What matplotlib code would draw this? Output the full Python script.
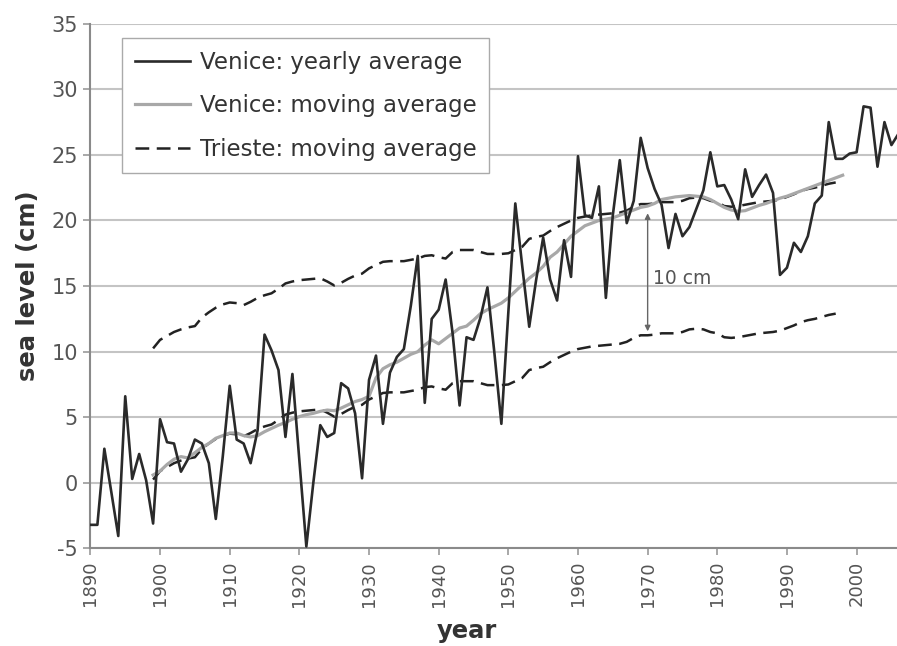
"""Venice and Trieste sea level, yearly values and moving averages."""

import numpy as np
import matplotlib
matplotlib.use("Agg")
import matplotlib.pyplot as plt

plt.rcParams['font.family'] = ['DejaVu Sans']
plt.rcParams['axes.unicode_minus'] = False

# Venice yearly average sea level (cm), 1890-2006
venice_years = np.arange(1890, 2007)
venice_yearly = [
    -3.2, -3.2, 2.6, -0.7, -4.05, 6.6, 0.3, 2.2, 0.2, -3.1,      # 1890s
    4.85, 3.1, 3.0, 0.85, 1.8, 3.3, 3.0, 1.5, -2.75, 2.0,        # 1900s
    7.4, 3.3, 3.0, 1.5, 4.0, 11.3, 10.1, 8.6, 3.5, 8.3,          # 1910s
    1.7, -4.85, 0.0, 4.4, 3.5, 3.8, 7.6, 7.2, 5.3, 0.35,         # 1920s
    7.85, 9.7, 4.5, 8.4, 9.6, 10.2, 13.5, 17.3, 6.1, 12.5,       # 1930s
    13.2, 15.5, 11.4, 5.9, 11.1, 10.9, 12.6, 14.9, 9.9, 4.5,     # 1940s
    13.0, 21.3, 16.5, 11.9, 15.5, 18.7, 15.5, 13.9, 18.5, 15.7,  # 1950s
    24.9, 20.4, 20.2, 22.6, 14.1, 20.4, 24.6, 19.8, 21.5, 26.3,  # 1960s
    24.0, 22.4, 21.2, 17.9, 20.5, 18.8, 19.5, 20.9, 22.3, 25.2,  # 1970s
    22.6, 22.7, 21.6, 20.1, 23.9, 21.8, 22.7, 23.5, 22.1, 15.85, # 1980s
    16.4, 18.3, 17.6, 18.8, 21.3, 21.9, 27.5, 24.7, 24.7, 25.1,  # 1990s
    25.2, 28.7, 28.6, 24.1, 27.5, 25.75, 26.6,                   # 2000s
]

# Venice moving average, 1899-1998
venice_ma_years = np.arange(1899, 1999)
venice_ma = [
    0.6,                                                          # 1899
    0.9, 1.4, 1.8, 2.0, 1.9, 2.3, 2.7, 3.0, 3.4, 3.6,            # 1900s
    3.8, 3.8, 3.6, 3.5, 3.6, 3.9, 4.15, 4.4, 4.6, 4.85,          # 1910s
    5.05, 5.2, 5.3, 5.45, 5.55, 5.5, 5.7, 5.95, 6.2, 6.35,       # 1920s
    6.6, 8.0, 8.7, 9.0, 9.2, 9.5, 9.8, 10.0, 10.5, 10.9,         # 1930s
    10.6, 11.0, 11.4, 11.8, 11.95, 12.4, 12.9, 13.2, 13.45, 13.7, # 1940s
    14.1, 14.6, 15.1, 15.6, 16.0, 16.5, 17.2, 17.6, 18.2, 18.8,  # 1950s
    19.2, 19.6, 19.8, 20.0, 20.1, 20.2, 20.4, 20.6, 20.8, 21.0,  # 1960s
    21.1, 21.3, 21.6, 21.7, 21.8, 21.85, 21.9, 21.85, 21.8, 21.6, # 1970s
    21.3, 21.0, 20.8, 20.7, 20.75, 20.95, 21.15, 21.3, 21.5, 21.7, # 1980s
    21.85, 22.05, 22.25, 22.45, 22.65, 22.85, 23.05, 23.25, 23.45, # 1990s
]

# Trieste moving average, 1899-1997 (drawn twice: as is and shifted up 10 cm)
trieste_years = np.arange(1899, 1998)
trieste_ma = [
    0.25,                                                         # 1899
    0.9, 1.2, 1.5, 1.7, 1.85, 1.95, 2.6, 3.0, 3.35, 3.6,         # 1900s
    3.75, 3.7, 3.55, 3.8, 4.1, 4.3, 4.45, 4.8, 5.2, 5.35,        # 1910s
    5.45, 5.5, 5.55, 5.6, 5.35, 5.05, 5.25, 5.55, 5.8, 5.95,     # 1920s
    6.35, 6.6, 6.85, 6.9, 6.9, 6.9, 7.0, 7.1, 7.3, 7.35,         # 1930s
    7.2, 7.1, 7.6, 7.75, 7.75, 7.75, 7.6, 7.45, 7.45, 7.45,      # 1940s
    7.5, 7.75, 8.0, 8.6, 8.75, 8.85, 9.2, 9.5, 9.75, 10.0,       # 1950s
    10.2, 10.3, 10.4, 10.45, 10.5, 10.55, 10.6, 10.75, 11.05, 11.25, # 1960s
    11.25, 11.3, 11.4, 11.4, 11.4, 11.5, 11.7, 11.75, 11.7, 11.5, # 1970s
    11.4, 11.1, 11.05, 11.1, 11.2, 11.3, 11.4, 11.45, 11.5, 11.6, # 1980s
    11.8, 12.0, 12.25, 12.4, 12.5, 12.65, 12.8, 12.9,            # 1990s
]
trieste_shift = 10
arrow_year = 1970

xticks = np.arange(1890, 2001, 10)
yticks = np.arange(-5, 36, 5)

fig = plt.figure(figsize=(8.97, 6.46), dpi=100)
ax = fig.add_axes([0.1008, 0.151, 0.8992, 0.8123])

tri = np.array(trieste_ma)
ax.plot(trieste_years, tri + trieste_shift, color='#222222', lw=1.8,
        dashes=(5.5, 3.0), zorder=3)
ax.plot(trieste_years, tri, color='#222222', lw=1.8, dashes=(5.5, 3.0),
        zorder=3, label='Trieste: moving average')
ax.plot(venice_ma_years, venice_ma, color='#a8a8a8', lw=2.3, zorder=4,
        label='Venice: moving average')
ax.plot(venice_years, venice_yearly, color='#2a2a2a', lw=1.9, zorder=5,
        label='Venice: yearly average')

# 10 cm offset arrow between the two Trieste curves
t_val = tri[arrow_year - trieste_years[0]]
ax.annotate('', xy=(arrow_year, t_val + 0.3), xytext=(arrow_year, t_val + trieste_shift - 0.7),
            arrowprops=dict(arrowstyle='<|-|>', color='#666666', lw=1.0,
                            mutation_scale=8, shrinkA=0, shrinkB=0), zorder=6)
ax.text(arrow_year + 0.7, t_val + trieste_shift / 2 - 0.7, '10 cm', fontsize=13.5,
        color='#555555', va='center', ha='left')

ax.set_xlim(1890, 2005.8)
ax.set_ylim(-5, 35)
ax.set_xticks(xticks)
ax.set_yticks(yticks)
ax.set_xticklabels([str(x) for x in xticks], rotation=90)
ax.tick_params(axis='both', colors='#999999', labelcolor='#555555',
               length=5, width=1.2, direction='out')
ax.tick_params(axis='y', labelsize=15, pad=4)
ax.tick_params(axis='x', labelsize=13, pad=4)
ax.yaxis.grid(True, color='#c4c4c4', lw=1.5)
ax.set_axisbelow(True)

for side in ('top', 'right'):
    ax.spines[side].set_visible(False)
for side in ('left', 'bottom'):
    ax.spines[side].set_color('#8a8a8a')
    ax.spines[side].set_linewidth(1.5)

ax.set_ylabel('sea level (cm)', fontsize=17.5, fontweight='bold', color='#333333')
ax.yaxis.set_label_coords(-0.062, 0.5)
ax.set_xlabel('year', fontsize=17.5, fontweight='bold', color='#333333')
ax.xaxis.set_label_coords(0.467, -0.135)

handles, labels = ax.get_legend_handles_labels()
order = [2, 1, 0]
leg = ax.legend([handles[i] for i in order], [labels[i] for i in order],
                loc='upper left', bbox_to_anchor=(122 / 897, 1 - 38 / 646),
                bbox_transform=fig.transFigure, borderaxespad=0, fontsize=16.5,
                handlelength=2.4, handletextpad=0.45, labelspacing=0.9,
                borderpad=0.55, fancybox=False, framealpha=1,
                edgecolor='#aaaaaa', labelcolor='#333333')
leg.get_frame().set_linewidth(1.0)
leg.set_zorder(10)

fig.savefig('out.png', dpi=100)
